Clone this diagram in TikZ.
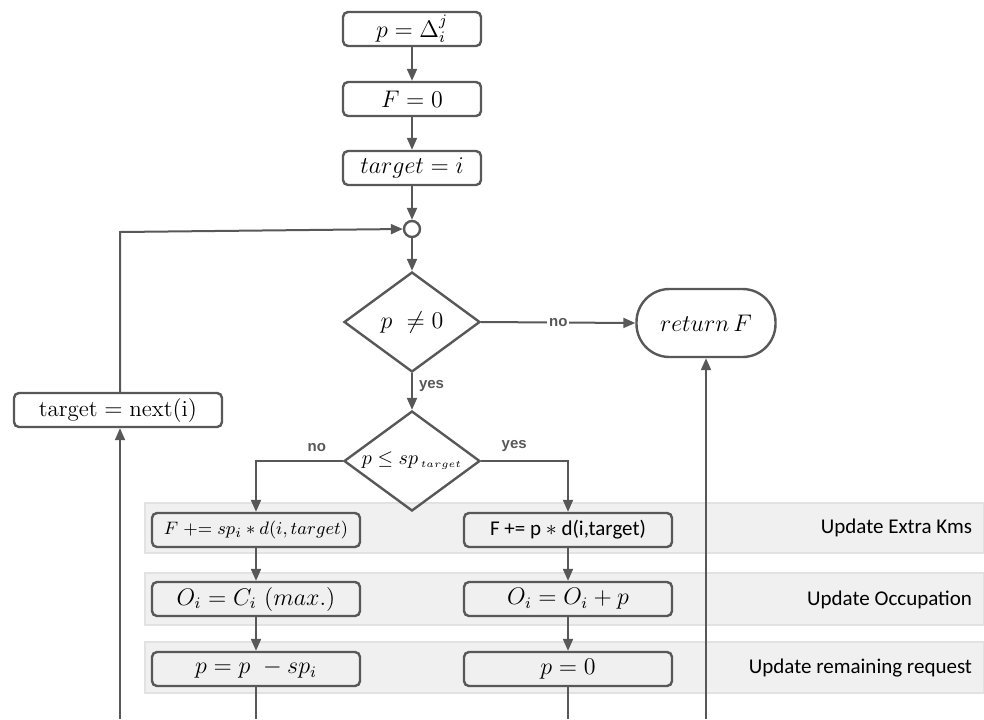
\documentclass[tikz,border=0pt]{standalone}
\usepackage{fontspec}
\usetikzlibrary{shapes.geometric,arrows.meta}
\newfontfamily\calibri{Carlito}
\newfontfamily\arial{Liberation Sans}
\definecolor{lineGray}{RGB}{88,88,88}
\definecolor{bandGray}{RGB}{240,240,240}
\definecolor{bandEdge}{RGB}{226,226,226}

\tikzset{
  every picture/.style={line width=1pt},
  box/.style={draw=lineGray, line width=1.2pt, rounded corners=2.5pt, minimum width=69pt, minimum height=17pt, inner sep=0pt, font=\fontsize{11.5}{13}\selectfont},
  wbox/.style={box, minimum width=104pt},
  decision/.style={diamond, aspect=1.36, draw=lineGray, line width=1.2pt, minimum width=68pt, minimum height=50pt, inner sep=0pt, font=\fontsize{11.5}{13}\selectfont},
  stopbox/.style={draw=lineGray, line width=1.2pt, rounded corners=16.5pt, minimum width=69.5pt, minimum height=34pt, inner sep=0pt, font=\fontsize{11.5}{13}\selectfont},
  band/.style={fill=bandGray, draw=bandEdge, line width=0.8pt},
  bandlabel/.style={anchor=east, inner sep=0pt, font=\calibri\fontsize{10.5}{12}\selectfont},
  lbl/.style={font=\arial\bfseries\fontsize{7.5}{9}\selectfont, text=lineGray, inner sep=1pt},
  flow/.style={draw=lineGray, line width=1pt, -{Triangle[length=6pt,width=5pt]}},
  plain/.style={draw=lineGray, line width=1pt}
}

\begin{document}
\begin{tikzpicture}[x=0.5pt,y=0.5pt,yscale=-1,xscale=1]
\useasboundingbox (0,0) rectangle (984,719);

%Shape: Bands
\draw [band] (145,503) rectangle (984,553);
\draw [band] (145,573) rectangle (984,625);
\draw [band] (145,642) rectangle (984,693);

% Text Node
\node [bandlabel] (lbExtra) at (973,528) {Update Extra Kms};
\node [bandlabel] (lbOcc) at (973,600) {Update Occupation};
\node [bandlabel] (lbRem) at (973,668) {Update remaining request};

%Shape: Boxes
\node [box] (start) at (412,29) {$p = \Delta_i^j$};
\node [box] (fzero) at (412,99) {$F = 0$};
\node [box] (tgt) at (412,168) {$target = i$};
\node [draw=lineGray, line width=1.2pt, circle, minimum size=8pt, inner sep=0pt] (join) at (412,229) {};
\node [decision] (pnz) at (412,322) {$p\ \neq 0$};
\node [stopbox] (ret) at (706,323) {$return\,F$};
\node [decision, font=\fontsize{10}{12}\selectfont] (cmp) at (412,461) {$p \leq sp_{\,\scriptscriptstyle target}$};
\node [wbox] (nxt) at (118,410) {$\mathrm{target} = \mathrm{next(i)}$};

\node [wbox, font=\fontsize{9.5}{11}\selectfont] (lExtra) at (256,530) {$F \mathrel{+{=}} sp_i * d(i, target)$};
\node [wbox] (lOcc) at (256,599) {$O_i = C_i\ (max.)$};
\node [wbox] (lRem) at (256,669) {$p = p\ - sp_i$};
\node [wbox, font=\calibri\fontsize{10.5}{12}\selectfont] (rExtra) at (568,530) {F += p $*$ d(i,target)};
\node [wbox] (rOcc) at (568,599) {$O_i = O_i + p$};
\node [wbox] (rRem) at (568,669) {$p = 0$};

%Straight Lines
\coordinate (lEnd) at (256,719);
\coordinate (rEnd) at (568,719);
\coordinate (retEnd) at (706,719);
\coordinate (nxtEnd) at (120,719);

\draw [flow] (start) -- (fzero);
\draw [flow] (fzero) -- (tgt);
\draw [flow] (tgt) -- (join);
\draw [flow] (join) -- (pnz);
\draw [flow] (pnz.east) -- node [lbl, fill=white] {no} (ret.west);
\draw [flow] (pnz.south) -- node [lbl, pos=0.35, right=2pt] {yes} (cmp.north);
\draw [flow] (cmp.west) -| node [lbl, pos=0.15, above=3pt] {no} (lExtra.north);
\draw [flow] (cmp.east) -| node [lbl, pos=0.19, above=3pt] {yes} (rExtra.north);
\draw [flow] (lExtra) -- (lOcc);
\draw [flow] (lOcc) -- (lRem);
\draw [flow] (rExtra) -- (rOcc);
\draw [flow] (rOcc) -- (rRem);
\draw [plain] (lRem) -- (lEnd);
\draw [plain] (rRem) -- (rEnd);
\draw [flow] (retEnd) -- (ret.south);
\draw [flow] (nxtEnd) -- (nxtEnd |- nxt.south);
\draw [flow] (nxtEnd |- nxt.north) -- (120,232) -- (join.west);

\end{tikzpicture}
\end{document}
